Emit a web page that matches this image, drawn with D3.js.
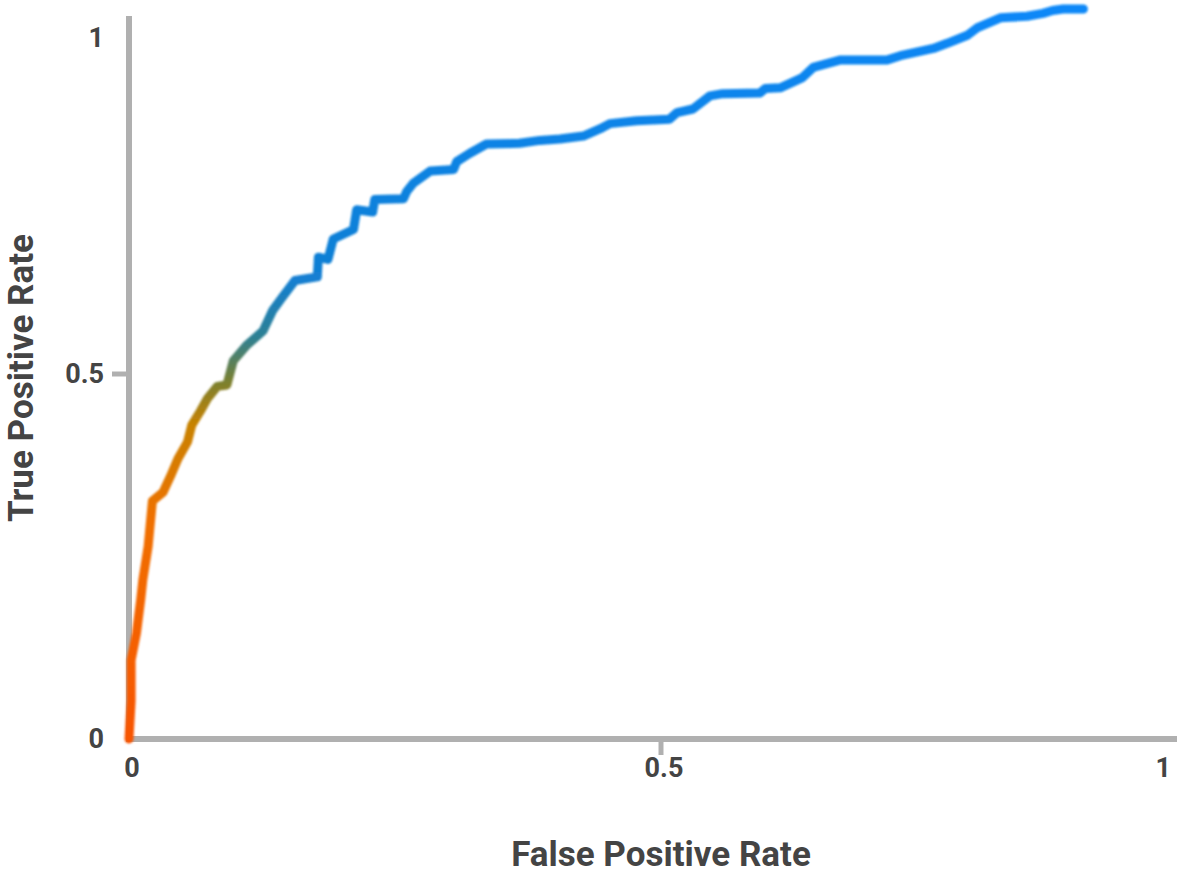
<!DOCTYPE html>
<html>

<head>
    <meta charset="UTF-8">
    <style>
        body { margin: 0; background: #fff; }
        text { font-family: Roboto, "Noto Sans", sans-serif; font-weight: 700; fill: #444; }
    </style>
</head>

<body>
    <svg></svg>
    <script src="https://d3js.org/d3.v7.min.js"></script>
    <script>
        let width = 1180,
            height = 872;

        // ROC curve
        let fpr = [0, 0.002, 0.002, 0.007, 0.011, 0.013, 0.018, 0.022, 0.032, 0.039, 0.046, 0.055, 0.059,
            0.067, 0.074, 0.083, 0.092, 0.098, 0.111, 0.126, 0.135, 0.144, 0.156, 0.177, 0.178, 0.187,
            0.192, 0.211, 0.214, 0.229, 0.231, 0.258, 0.261, 0.267, 0.283, 0.305, 0.308, 0.320, 0.336,
            0.367, 0.386, 0.405, 0.427, 0.443, 0.452, 0.477, 0.508, 0.515, 0.530, 0.546, 0.558, 0.593,
            0.598, 0.612, 0.633, 0.643, 0.668, 0.712, 0.725, 0.756, 0.769, 0.788, 0.797, 0.819, 0.844,
            0.859, 0.868, 0.878, 0.897];
        let tpr = [0, 0.052, 0.108, 0.145, 0.191, 0.218, 0.264, 0.326, 0.338, 0.360, 0.384, 0.407, 0.430,
            0.449, 0.467, 0.483, 0.485, 0.518, 0.540, 0.559, 0.587, 0.605, 0.628, 0.633, 0.660, 0.657,
            0.685, 0.698, 0.725, 0.722, 0.739, 0.740, 0.750, 0.761, 0.778, 0.780, 0.791, 0.802, 0.815,
            0.816, 0.820, 0.822, 0.826, 0.836, 0.843, 0.847, 0.849, 0.858, 0.863, 0.881, 0.884, 0.885,
            0.891, 0.892, 0.906, 0.920, 0.930, 0.930, 0.936, 0.946, 0.953, 0.964, 0.974, 0.988, 0.990,
            0.994, 0.998, 1.0, 1.0];

        let xTicks = [0, 0.5, 1];
        let yTicks = [0, 0.5, 1];

        // gradient colours along the true positive rate
        let gradStops = [0, 0.3, 0.43, 0.49, 0.55, 0.63, 1];
        let gradColors = ["#f85400", "#f07000", "#c88200", "#7a8030", "#2e8092", "#127fd2", "#0a88f8"];

        let data = fpr.map((d, i) => ({ x: d, y: tpr[i] }));

        let svg = d3.select("svg")
            .attr("width", width)
            .attr("height", height);

        let x = d3.scaleLinear().domain([0, 1]).range([129, 1193]);
        let y = d3.scaleLinear().domain([0, 1]).range([739, 9]);

        let axisColor = "#b0b0b0";

        let defs = svg.append("defs");
        let grad = defs.append("linearGradient")
            .attr("id", "rocGrad")
            .attr("gradientUnits", "userSpaceOnUse")
            .attr("x1", 0).attr("x2", 0)
            .attr("y1", y(0)).attr("y2", y(1));
        grad.selectAll("stop")
            .data(gradStops)
            .enter()
            .append("stop")
            .attr("offset", d => d)
            .attr("stop-color", (d, i) => gradColors[i]);

        let blur = defs.append("filter").attr("id", "soft");
        blur.append("feGaussianBlur").attr("stdDeviation", 0.8);

        // axes
        svg.append("line")
            .attr("x1", x(0)).attr("x2", x(0))
            .attr("y1", 16).attr("y2", y(0) + 3)
            .attr("stroke", axisColor).attr("stroke-width", 6);
        svg.append("line")
            .attr("x1", x(0) - 3).attr("x2", 1177)
            .attr("y1", y(0)).attr("y2", y(0))
            .attr("stroke", axisColor).attr("stroke-width", 6);

        // tick marks only for the middle value
        svg.append("line")
            .attr("x1", x(0) - 17).attr("x2", x(0))
            .attr("y1", y(0.5)).attr("y2", y(0.5))
            .attr("stroke", axisColor).attr("stroke-width", 5);
        svg.append("line")
            .attr("x1", x(0.5)).attr("x2", x(0.5))
            .attr("y1", y(0)).attr("y2", y(0) + 16)
            .attr("stroke", axisColor).attr("stroke-width", 5);

        svg.append("g")
            .selectAll("text")
            .data(yTicks)
            .enter()
            .append("text")
            .attr("x", 104)
            .attr("y", d => Math.max(y(d), 38))
            .attr("dy", "0.35em")
            .attr("text-anchor", "end")
            .style("font-size", "27px")
            .text(d => d);

        svg.append("g")
            .selectAll("text")
            .data(xTicks)
            .enter()
            .append("text")
            .attr("x", d => Math.min(x(d) + 3, 1171))
            .attr("y", 768)
            .attr("dy", "0.35em")
            .attr("text-anchor", d => d == 1 ? "end" : "middle")
            .style("font-size", "27px")
            .text(d => d);

        // axis titles
        svg.append("text")
            .attr("x", 661)
            .attr("y", 866)
            .attr("text-anchor", "middle")
            .style("font-size", "35px")
            .text("False Positive Rate");

        svg.append("text")
            .attr("transform", "translate(33,378) rotate(-90)")
            .attr("text-anchor", "middle")
            .style("font-size", "35px")
            .text("True Positive Rate");

        // curve
        let line = d3.line()
            .x(d => x(d.x))
            .y(d => y(d.y));

        svg.append("path")
            .datum(data)
            .attr("d", line)
            .attr("fill", "none")
            .attr("stroke", "url(#rocGrad)")
            .attr("stroke-width", 9)
            .attr("stroke-linejoin", "round")
            .attr("stroke-linecap", "round")
            .attr("filter", "url(#soft)");
    </script>
</body>

</html>
